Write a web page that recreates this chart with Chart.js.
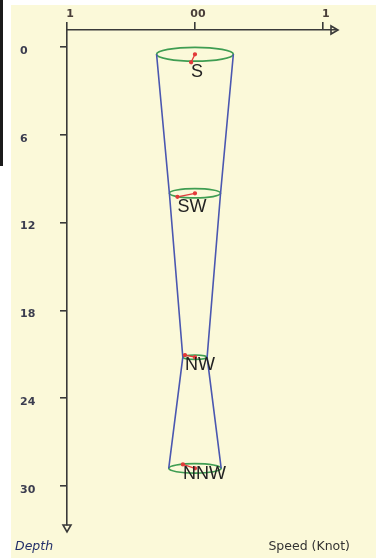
<!DOCTYPE html>
<html>
<head>
<meta charset="utf-8">
<script src="https://cdn.jsdelivr.net/npm/chart.js@4.4.1/dist/chart.umd.min.js"></script>
<style>
  html, body { margin: 0; padding: 0; background: #fff; }
  #bar { position: absolute; left: 0; top: 0; width: 3px; height: 166px; background: #1b1b1b; }
  #panel { position: absolute; left: 11px; top: 5px; width: 365px; height: 553px; background: #fbf9d9; }
</style>
</head>
<body>
<div id="bar"></div>
<div id="panel"><canvas id="chart" width="365" height="553"></canvas></div>
<script>
// current profile: depth, speed (knot), direction
const depths = [0.5, 10.0, 21.2, 28.8];
const speeds = [0.30, 0.20, 0.095, 0.205];
const dirLabels = ['S', 'SW', 'NW', 'NNW'];
// direction arrow tip, relative to the ring centre (knot, depth)
const arrowDx = [-0.03, -0.137, -0.078, -0.094];
const arrowDz = [0.55, 0.24, -0.14, -0.27];

const speedTicks = [-1, 0, 1];
const speedTickLabels = ['1', '00', '1'];
const depthTicks = [0, 6, 12, 18, 24, 30];

const AXIS = '#3a3a3a';
const TICKFONT = { family: 'DejaVu Sans', size: 11, weight: 'bold' };

let datasets = [];
// red direction arrows (first => drawn on top)
for (let i = 0; i < depths.length; i++) {
    datasets.push({
        data: [{x: 0, y: depths[i]}, {x: arrowDx[i], y: depths[i] + arrowDz[i]}],
        borderColor: '#e23a3a',
        backgroundColor: '#e23a3a',
        borderWidth: 1.3,
        pointRadius: 1.5,
        showLine: true
    });
}
// funnel sides
datasets.push({
    data: depths.map((d, i) => ({x: -speeds[i], y: d})),
    borderColor: '#4a57b0', borderWidth: 1.6, pointRadius: 0, showLine: true, tension: 0
});
datasets.push({
    data: depths.map((d, i) => ({x: speeds[i], y: d})),
    borderColor: '#4a57b0', borderWidth: 1.6, pointRadius: 0, showLine: true, tension: 0
});

const rings = {
    id: 'rings',
    beforeDatasetsDraw(chart) {
        const ctx = chart.ctx, xs = chart.scales.x, ys = chart.scales.y;
        ctx.save();
        ctx.strokeStyle = '#3f9d52';
        ctx.lineWidth = 1.7;
        for (let i = 0; i < depths.length; i++) {
            const cx = xs.getPixelForValue(0);
            const rx = xs.getPixelForValue(speeds[i]) - cx;
            ctx.beginPath();
            ctx.ellipse(cx, ys.getPixelForValue(depths[i]), rx, rx * 0.18, 0, 0, Math.PI * 2);
            ctx.stroke();
        }
        ctx.restore();
    },
    afterDraw(chart) {
        const ctx = chart.ctx, xs = chart.scales.x, ys = chart.scales.y, ca = chart.chartArea;
        ctx.save();
        // direction labels
        ctx.fillStyle = '#222';
        ctx.font = '18px "Liberation Sans", Arial, sans-serif';
        ctx.textAlign = 'left';
        ctx.textBaseline = 'top';
        for (let i = 0; i < depths.length; i++) {
            const px = xs.getPixelForValue(arrowDx[i]);
            const py = ys.getPixelForValue(depths[i] + arrowDz[i]);
            ctx.fillText(dirLabels[i], px, py + 1);
        }
        // axis arrow heads
        ctx.strokeStyle = AXIS;
        ctx.lineWidth = 1.6;
        ctx.beginPath();
        ctx.moveTo(ca.right - 6, ca.top - 4);
        ctx.lineTo(ca.right - 6, ca.top + 4);
        ctx.lineTo(ca.right + 1, ca.top);
        ctx.closePath();
        ctx.moveTo(ca.left - 4, ca.bottom);
        ctx.lineTo(ca.left + 4, ca.bottom);
        ctx.lineTo(ca.left, ca.bottom + 7);
        ctx.closePath();
        ctx.stroke();
        // axis titles
        ctx.textBaseline = 'alphabetic';
        ctx.font = 'italic 12.5px "DejaVu Sans", sans-serif';
        ctx.fillStyle = '#23306a';
        ctx.fillText('Depth', 4, 545);
        ctx.font = '12.5px "DejaVu Sans", sans-serif';
        ctx.fillStyle = '#333';
        ctx.textAlign = 'right';
        ctx.fillText('Speed (Knot)', 339, 545);
        ctx.restore();
    }
};

new Chart(document.getElementById('chart'), {
    type: 'scatter',
    data: { datasets: datasets },
    plugins: [rings],
    options: {
        responsive: false,
        animation: false,
        devicePixelRatio: 1,
        layout: { padding: { left: 9, top: 0, right: 39, bottom: 33 } },
        plugins: { legend: { display: false }, tooltip: { enabled: false } },
        scales: {
            x: {
                type: 'linear',
                position: 'top',
                min: -1,
                max: 1.11,
                afterBuildTicks: s => { s.ticks = speedTicks.map(v => ({value: v})); },
                afterFit: s => { s.height = 25; },
                grid: { drawOnChartArea: false, color: AXIS, lineWidth: 1.6, tickLength: 8 },
                border: { color: AXIS, width: 1.6 },
                ticks: {
                    color: '#4a3f3a', font: TICKFONT, padding: 1, labelOffset: 3, maxRotation: 0,
                    callback: (v, i) => speedTickLabels[i]
                }
            },
            y: {
                type: 'linear',
                reverse: true,
                min: -1.16,
                max: 32.67,
                afterBuildTicks: s => { s.ticks = depthTicks.map(v => ({value: v})); },
                afterFit: s => { s.width = 47; },
                grid: { drawOnChartArea: false, color: AXIS, lineWidth: 1.6, tickLength: 7 },
                border: { color: AXIS, width: 1.6 },
                ticks: {
                    color: '#3b3d4f', font: TICKFONT, crossAlign: 'far', labelOffset: 4,
                    callback: v => String(v)
                }
            }
        }
    }
});
</script>
</body>
</html>
